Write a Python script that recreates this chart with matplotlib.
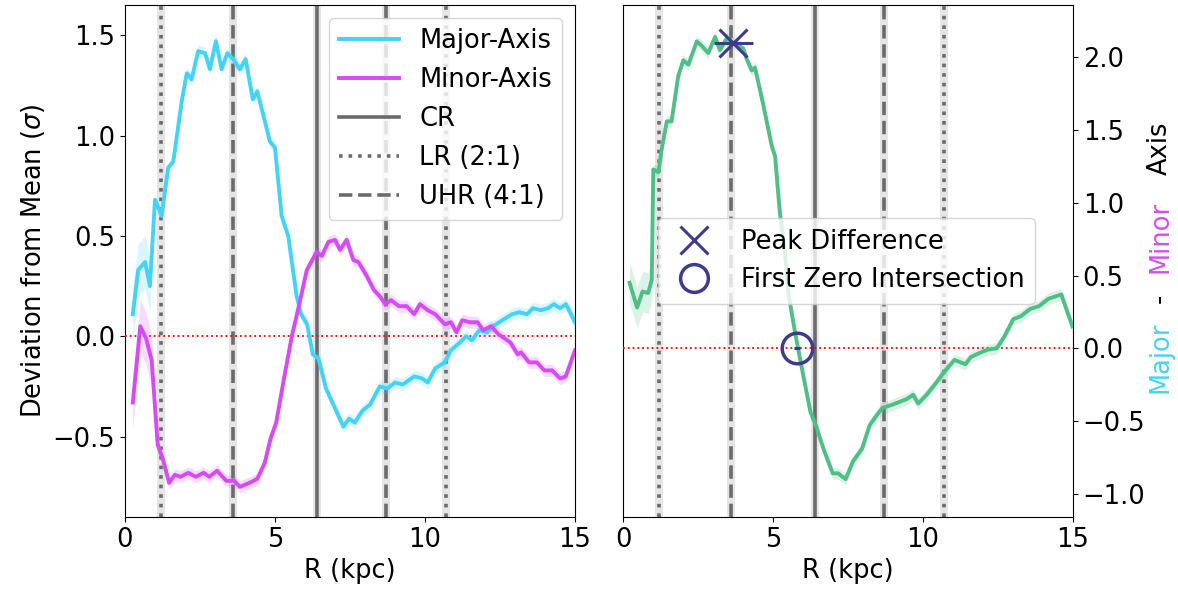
import numpy as np
import matplotlib
matplotlib.use("Agg")
import matplotlib.pyplot as plt
from matplotlib.lines import Line2D

# ---------------- data ----------------
R_major = [0.26, 0.44, 0.67, 0.83, 1.0, 1.22, 1.44, 1.61, 1.89, 2.06, 2.22, 2.44, 2.67, 2.83,
           3.03, 3.22, 3.41, 3.61, 3.83, 4.02, 4.26, 4.41, 4.83, 5.0, 5.22, 5.44, 5.72,
           5.87, 6.07, 6.26, 6.45, 6.7, 7.28, 7.47, 7.66, 7.92, 8.17, 8.49, 8.75, 9.0,
           9.26, 9.64, 9.9, 10.09, 10.34, 10.66, 10.86, 11.17, 11.37, 11.56, 11.81, 12.07,
           12.26, 12.58, 12.9, 13.15, 13.4, 13.6, 13.86, 14.1, 14.3, 14.5, 14.7, 15.0]
major = [0.11, 0.33, 0.37, 0.25, 0.68, 0.60, 0.84, 0.87, 1.17, 1.31, 1.28, 1.42, 1.41, 1.33,
         1.47, 1.33, 1.41, 1.38, 1.33, 1.38, 1.18, 1.22, 0.97, 0.94, 0.60, 0.50, 0.20,
         0.11, 0.06, -0.09, -0.11, -0.26, -0.45, -0.41, -0.43, -0.37, -0.34, -0.25, -0.26, -0.23,
         -0.24, -0.20, -0.21, -0.23, -0.16, -0.13, -0.07, -0.03, 0.0, -0.02, 0.03, 0.02,
         0.05, 0.08, 0.11, 0.12, 0.11, 0.14, 0.13, 0.14, 0.16, 0.14, 0.16, 0.07]

R_minor = [0.26, 0.51, 0.70, 0.89, 1.09, 1.28, 1.47, 1.66, 1.85, 2.11, 2.36, 2.62, 2.81, 3.07,
           3.38, 3.64, 3.83, 4.15, 4.41, 4.66, 4.85, 5.04, 5.3, 5.56, 5.81, 6.06, 6.39,
           6.56, 6.78, 7.0, 7.17, 7.39, 7.61, 7.78, 8.06, 8.3, 8.49, 8.68, 8.87, 9.13,
           9.39, 9.64, 9.83, 10.09, 10.34, 10.66, 10.86, 11.05, 11.24, 11.49, 11.75, 11.94,
           12.2, 12.45, 12.84, 13.09, 13.2, 13.47, 13.73, 13.98, 14.24, 14.5, 14.69, 15.0]
minor = [-0.33, 0.05, -0.01, -0.12, -0.54, -0.62, -0.73, -0.69, -0.70, -0.68, -0.70, -0.68, -0.70, -0.67,
         -0.72, -0.72, -0.75, -0.73, -0.71, -0.63, -0.51, -0.43, -0.21, 0.0, 0.16, 0.33, 0.42,
         0.40, 0.47, 0.48, 0.43, 0.48, 0.38, 0.37, 0.30, 0.23, 0.20, 0.16, 0.18, 0.15,
         0.15, 0.11, 0.16, 0.13, 0.11, 0.06, 0.07, 0.02, 0.08, 0.07, 0.07, 0.03,
         0.05, 0.01, -0.03, -0.09, -0.08, -0.13, -0.13, -0.17, -0.17, -0.21, -0.20, -0.07]

R_diff = [0.22, 0.47, 0.65, 0.84, 0.96, 1.01, 1.18, 1.29, 1.46, 1.62, 1.84, 2.01, 2.18, 2.46,
          2.62, 2.84, 3.07, 3.23, 3.46, 3.68, 4.01, 4.12, 4.29, 4.4, 4.68, 4.96, 5.07,
          5.23, 5.4, 5.51, 5.7, 5.88, 6.06, 6.25, 6.43, 6.68, 6.99, 7.17, 7.42, 7.66,
          7.97, 8.22, 8.46, 8.65, 8.95, 9.2, 9.45, 9.67, 9.84, 10.12, 10.43, 10.68, 11.05,
          11.41, 11.6, 11.91, 12.15, 12.46, 12.71, 13.01, 13.26, 13.57, 13.87, 14.18, 14.61, 14.98]
diff = [0.45, 0.28, 0.39, 0.38, 0.47, 1.23, 1.21, 1.37, 1.56, 1.56, 1.87, 1.98, 1.95, 2.11,
        2.08, 2.03, 2.14, 2.05, 2.13, 2.10, 2.06, 1.99, 1.91, 1.93, 1.67, 1.39, 1.32,
        0.93, 0.66, 0.38, 0.15, -0.05, -0.24, -0.44, -0.53, -0.69, -0.86, -0.86, -0.90, -0.78,
        -0.69, -0.53, -0.46, -0.41, -0.39, -0.37, -0.35, -0.32, -0.38, -0.32, -0.24, -0.17, -0.08,
        -0.11, -0.06, -0.03, -0.01, 0.0, 0.08, 0.20, 0.22, 0.27, 0.29, 0.34, 0.37, 0.15]

# half-widths of the shaded uncertainty bands: (inner radius, outer) -> width
band_major = 0.03
band_minor = 0.03
band_diff = 0.04
band_inner_R = 1.0          # bands are wider inside this radius
band_inner_extra = 0.10

resonances = [1.2, 3.6, 6.4, 8.7, 10.7]
resonance_styles = [":", "--", "-", "--", ":"]
resonance_labels = ["LR (2:1)", "UHR (4:1)", "CR", None, None]

peak_R, peak_val, peak_err = 3.67, 2.10, 0.65
zero_R, zero_val, zero_err = 5.8, 0.0, 0.1

C_MAJOR = "#45d3f5"
C_MINOR = "#d44cf2"
C_DIFF = "#4fbf87"
C_MARK = "#3f3a8c"
FS = 18.5

plt.rcParams["font.family"] = ["DejaVu Sans"]
fig = plt.figure(figsize=(11.78, 5.95), dpi=100)
W, H = 1178, 595
ax1 = fig.add_axes([125 / W, (H - 517) / H, 450 / W, 512 / H])
ax2 = fig.add_axes([623 / W, (H - 517) / H, 450 / W, 512 / H])


def draw_res(ax):
    handles = {}
    for x, ls, lab in zip(resonances, resonance_styles, resonance_labels):
        ax.axvspan(x - 0.12, x + 0.12, color="#d0d0d0", alpha=0.55, lw=0, zorder=1)
        h = ax.axvline(x, color="#6b6b6b", ls=ls, lw=2.6, zorder=2)
        if lab:
            handles[lab] = h
    return handles


def band(R, base):
    R = np.asarray(R)
    return np.where(R < band_inner_R, base + band_inner_extra, base)


# left panel
res_h = draw_res(ax1)
ax1.axhline(0, color="red", ls=":", lw=1.3, zorder=3)
Rm, Mj = np.array(R_major), np.array(major)
Rn, Mn = np.array(R_minor), np.array(minor)
bm, bn = band(Rm, band_major), band(Rn, band_minor)
ax1.fill_between(Rm, Mj - bm, Mj + bm, color=C_MAJOR, alpha=0.2, lw=0, zorder=3)
ax1.fill_between(Rn, Mn - bn, Mn + bn, color=C_MINOR, alpha=0.2, lw=0, zorder=3)
h1, = ax1.plot(Rm, Mj, color=C_MAJOR, lw=2.8, zorder=4, label="Major-Axis")
h2, = ax1.plot(Rn, Mn, color=C_MINOR, lw=2.8, zorder=4, label="Minor-Axis")
ax1.set_xlim(0, 15)
ax1.set_ylim(-0.9, 1.65)
ax1.set_yticks([-0.5, 0.0, 0.5, 1.0, 1.5])
ax1.set_xticks([0, 5, 10, 15])
ax1.set_xlabel("R (kpc)", fontsize=FS)
ax1.set_ylabel(r"Deviation from Mean ($\sigma$)", fontsize=FS)
ax1.tick_params(labelsize=FS)
ax1.legend([h1, h2, res_h["CR"], res_h["LR (2:1)"], res_h["UHR (4:1)"]],
           ["Major-Axis", "Minor-Axis", "CR", "LR (2:1)", "UHR (4:1)"],
           loc="upper right", fontsize=FS, framealpha=0.8, handlelength=2.3)

# right panel
draw_res(ax2)
ax2.axhline(0, color="red", ls=":", lw=1.3, zorder=3)
Rd, Df = np.array(R_diff), np.array(diff)
bd = band(Rd, band_diff)
ax2.fill_between(Rd, Df - bd, Df + bd, color=C_DIFF, alpha=0.2, lw=0, zorder=3)
ax2.plot(Rd, Df, color=C_DIFF, lw=2.8, zorder=4)
ax2.errorbar([peak_R], [peak_val], xerr=[peak_err], fmt="x", color=C_MARK, ms=20, mew=2.2,
             elinewidth=2.2, capsize=0, zorder=6)
ax2.errorbar([zero_R], [zero_val], xerr=[zero_err], fmt="o", color=C_MARK, mfc="none", ms=22,
             mew=2.5, elinewidth=2.2, capsize=0, zorder=6)
ax2.set_xlim(0, 15)
ax2.set_ylim(-1.16, 2.36)
ax2.set_yticks([-1.0, -0.5, 0.0, 0.5, 1.0, 1.5, 2.0])
ax2.set_xticks([0, 5, 10, 15])
ax2.yaxis.tick_right()
ax2.set_xlabel("R (kpc)", fontsize=FS)
ax2.tick_params(labelsize=FS)
lh = [Line2D([], [], ls="none", marker="x", color=C_MARK, ms=20, mew=2.2),
      Line2D([], [], ls="none", marker="o", mfc="none", color=C_MARK, ms=20, mew=2.5)]
ax2.legend(lh, ["Peak Difference", "First Zero Intersection"], loc="center left",
           bbox_to_anchor=(0.05, 0.5), fontsize=FS, framealpha=0.8)

# coloured right label
parts = [("Major", C_MAJOR, 357), ("-", "black", 298), ("Minor", C_MINOR, 237), ("Axis", "black", 148)]
for txt, col, yc in parts:
    fig.text(1160 / W, 1 - yc / H, txt, color=col, rotation=90, fontsize=FS,
             ha="center", va="center")

fig.savefig("out.png", dpi=100)
